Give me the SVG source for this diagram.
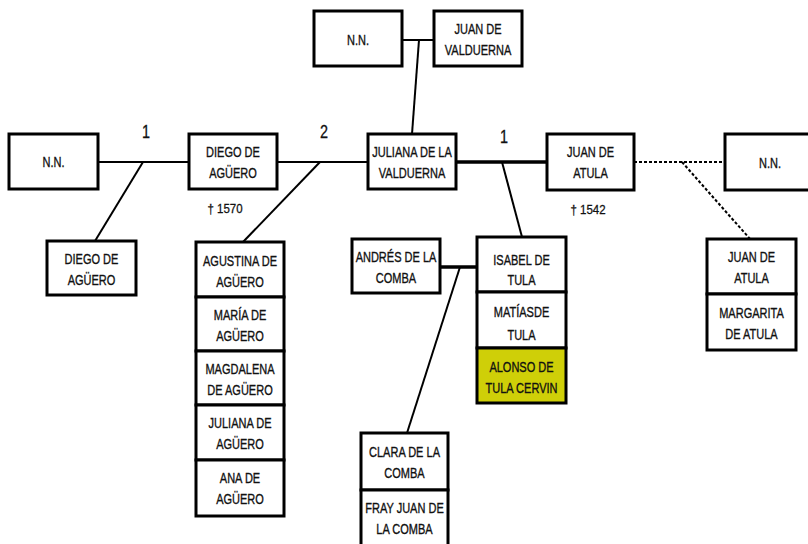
<svg xmlns="http://www.w3.org/2000/svg" width="808" height="544" viewBox="0 0 808 544">
<style>
.b{fill:#fff;stroke:#000;stroke-width:3}
.y{fill:#cfcf08;stroke:#000;stroke-width:3}
.t{font-family:"Liberation Sans",Arial,sans-serif;font-size:14.5px;fill:#111;stroke:#111;stroke-width:0.35;text-anchor:middle}
.n{font-family:"Liberation Sans",Arial,sans-serif;font-size:18px;fill:#111;stroke:#111;stroke-width:0.3;text-anchor:middle}
.d{font-family:"Liberation Sans",Arial,sans-serif;font-size:13.5px;fill:#111;stroke:#111;stroke-width:0.3;text-anchor:middle}
.c{stroke:#000;stroke-width:2;fill:none}
.k{stroke:#000;stroke-width:3.5;fill:none}
.dash{stroke:#000;stroke-width:2;fill:none;stroke-dasharray:3 2}
</style>
<rect width="808" height="544" fill="#fff"/>
<g id="connectors">
<line class="c" x1="402" y1="40" x2="434" y2="40"/>
<line class="c" x1="419" y1="40" x2="412" y2="134"/>
<line class="c" x1="98" y1="162" x2="189" y2="162"/>
<line class="c" x1="143" y1="162" x2="95" y2="241"/>
<line class="c" x1="277" y1="162" x2="368" y2="162"/>
<line class="c" x1="320" y1="162" x2="243" y2="242"/>
<line class="k" x1="456" y1="162" x2="547" y2="162"/>
<line class="c" x1="502" y1="162" x2="522" y2="237"/>
<line class="dash" x1="634" y1="162" x2="725" y2="162"/>
<line class="dash" x1="682" y1="162" x2="750" y2="239"/>
<line class="k" x1="440" y1="267" x2="477" y2="267"/>
<line class="c" x1="460" y1="267" x2="407" y2="433"/>
</g>
<g id="labels">
<g transform="translate(146 0) scale(0.8 1)"><text class="n" x="0" y="138">1</text></g>
<g transform="translate(324 0) scale(0.8 1)"><text class="n" x="0" y="138">2</text></g>
<g transform="translate(504 0) scale(0.8 1)"><text class="n" x="0" y="143">1</text></g>
<g transform="translate(225 0) scale(0.85 1)"><text class="d" x="0" y="213">† 1570</text></g>
<g transform="translate(588 0) scale(0.85 1)"><text class="d" x="0" y="214">† 1542</text></g>
</g>
<g id="nn_top"><rect class="b" x="314" y="11" width="88" height="55"/><g transform="translate(358 0) scale(0.76 1)"><text class="t" x="0" y="45">N.N.</text></g></g>
<g id="juan_valduerna"><rect class="b" x="434" y="11" width="88" height="55"/><g transform="translate(478 0) scale(0.76 1)"><text class="t" x="0" y="34">JUAN DE</text><text class="t" x="0" y="55">VALDUERNA</text></g></g>
<g id="nn_left"><rect class="b" x="9" y="134" width="89" height="55"/><g transform="translate(53.5 0) scale(0.76 1)"><text class="t" x="0" y="167">N.N.</text></g></g>
<g id="diego"><rect class="b" x="189" y="134" width="88" height="55"/><g transform="translate(233 0) scale(0.76 1)"><text class="t" x="0" y="157">DIEGO DE</text><text class="t" x="0" y="178">AGÜERO</text></g></g>
<g id="juliana"><rect class="b" x="368" y="134" width="88" height="55"/><g transform="translate(412 0) scale(0.76 1)"><text class="t" x="0" y="157">JULIANA DE LA</text><text class="t" x="0" y="178">VALDUERNA</text></g></g>
<g id="juan_atula"><rect class="b" x="547" y="134" width="87" height="56"/><g transform="translate(590.5 0) scale(0.76 1)"><text class="t" x="0" y="157">JUAN DE</text><text class="t" x="0" y="178">ATULA</text></g></g>
<g id="nn_right"><rect class="b" x="725" y="134" width="100" height="56"/><g transform="translate(770 0) scale(0.76 1)"><text class="t" x="0" y="168">N.N.</text></g></g>
<g id="diego_child"><rect class="b" x="47" y="241" width="89" height="54"/><g transform="translate(91.5 0) scale(0.76 1)"><text class="t" x="0" y="264">DIEGO DE</text><text class="t" x="0" y="285">AGÜERO</text></g></g>
<g id="agustina"><rect class="b" x="196" y="242" width="88" height="55"/><g transform="translate(240 0) scale(0.76 1)"><text class="t" x="0" y="266">AGUSTINA DE</text><text class="t" x="0" y="287">AGÜERO</text></g></g>
<g id="maria"><rect class="b" x="196" y="297" width="88" height="54"/><g transform="translate(240 0) scale(0.76 1)"><text class="t" x="0" y="320">MARÍA DE</text><text class="t" x="0" y="341">AGÜERO</text></g></g>
<g id="magdalena"><rect class="b" x="196" y="351" width="88" height="54"/><g transform="translate(240 0) scale(0.76 1)"><text class="t" x="0" y="374">MAGDALENA</text><text class="t" x="0" y="395">DE AGÜERO</text></g></g>
<g id="juliana_aguero"><rect class="b" x="196" y="405" width="88" height="55"/><g transform="translate(240 0) scale(0.76 1)"><text class="t" x="0" y="428">JULIANA DE</text><text class="t" x="0" y="449">AGÜERO</text></g></g>
<g id="ana"><rect class="b" x="196" y="460" width="88" height="56"/><g transform="translate(240 0) scale(0.76 1)"><text class="t" x="0" y="483">ANA DE</text><text class="t" x="0" y="504">AGÜERO</text></g></g>
<g id="andres"><rect class="b" x="352" y="239" width="88" height="54"/><g transform="translate(396 0) scale(0.76 1)"><text class="t" x="0" y="262">ANDRÉS DE LA</text><text class="t" x="0" y="283">COMBA</text></g></g>
<g id="isabel"><rect class="b" x="477" y="237" width="89" height="55"/><g transform="translate(521.5 0) scale(0.76 1)"><text class="t" x="0" y="265">ISABEL DE</text><text class="t" x="0" y="285">TULA</text></g></g>
<g id="matias"><rect class="b" x="477" y="292" width="89" height="56"/><g transform="translate(521.5 0) scale(0.76 1)"><text class="t" x="0" y="317">MATÍASDE</text><text class="t" x="0" y="340">TULA</text></g></g>
<g id="alonso"><rect class="y" x="477" y="348" width="89" height="55"/><g transform="translate(521.5 0) scale(0.76 1)"><text class="t" x="0" y="372">ALONSO DE</text><text class="t" x="0" y="393">TULA CERVIN</text></g></g>
<g id="clara"><rect class="b" x="361" y="433" width="87" height="57"/><g transform="translate(404.5 0) scale(0.76 1)"><text class="t" x="0" y="457">CLARA DE LA</text><text class="t" x="0" y="478">COMBA</text></g></g>
<g id="fray"><rect class="b" x="361" y="490" width="87" height="56"/><g transform="translate(404.5 0) scale(0.76 1)"><text class="t" x="0" y="513">FRAY JUAN DE</text><text class="t" x="0" y="534">LA COMBA</text></g></g>
<g id="juan_atula_child"><rect class="b" x="707" y="239" width="89" height="55"/><g transform="translate(751.5 0) scale(0.76 1)"><text class="t" x="0" y="262">JUAN DE</text><text class="t" x="0" y="283">ATULA</text></g></g>
<g id="margarita"><rect class="b" x="707" y="294" width="89" height="56"/><g transform="translate(751.5 0) scale(0.76 1)"><text class="t" x="0" y="318">MARGARITA</text><text class="t" x="0" y="339">DE ATULA</text></g></g>
</svg>
